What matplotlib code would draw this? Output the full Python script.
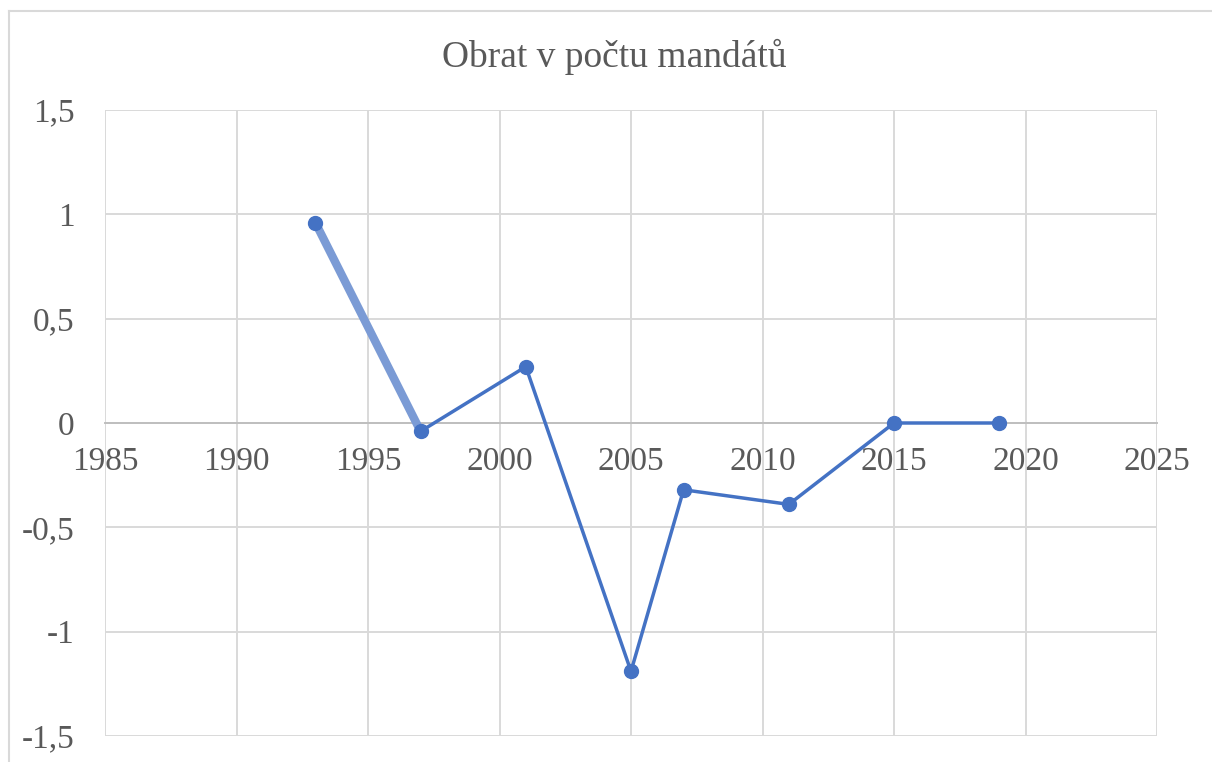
import matplotlib.pyplot as plt
from matplotlib.ticker import FuncFormatter, MultipleLocator
from matplotlib.lines import Line2D

# data
years = [1993, 1997, 2001, 2005, 2007, 2011, 2015, 2019]
values = [0.96, -0.04, 0.27, -1.19, -0.32, -0.39, 0.0, 0.0]
title = "Obrat v počtu mandátů"

plt.rcParams['font.family'] = ['Liberation Serif', 'DejaVu Serif']

fig = plt.figure(figsize=(12.12, 7.62), dpi=100)
ax = fig.add_axes([105/1212, 1 - 736/762, (1157-105)/1212, (736-110)/762])

# chart frame: only the top and left edges are visible in the crop
fig.lines.append(Line2D([9/1212, 1], [1 - 11/762, 1 - 11/762], transform=fig.transFigure,
                        color='#d9d9d9', linewidth=1.5))
fig.lines.append(Line2D([9/1212, 9/1212], [0, 1 - 11/762], transform=fig.transFigure,
                        color='#d9d9d9', linewidth=1.5))

blue = '#4472C4'
# first segment drawn thicker and lighter, like in the original
ax.plot(years[:2], values[:2], color='#7B9BD5', linewidth=6, solid_capstyle='butt', zorder=3)
ax.plot(years[1:], values[1:], color=blue, linewidth=2.5, zorder=3)
ax.plot(years, values, linestyle='none', marker='o', markersize=10, color=blue, zorder=4)

ax.set_xlim(1985, 2025)
ax.set_ylim(-1.5, 1.5)
ax.xaxis.set_major_locator(MultipleLocator(5))
ax.yaxis.set_major_locator(MultipleLocator(0.5))
ax.yaxis.set_major_formatter(FuncFormatter(lambda v, p: ('%g' % v).replace('.', ',')))

ax.grid(True, color='#d9d9d9', linewidth=1.4)
ax.set_axisbelow(True)
for s in ['top', 'right', 'left']:
    ax.spines[s].set_visible(False)
ax.spines['bottom'].set_position(('data', 0))
ax.spines['bottom'].set_color('#bfbfbf')
ax.spines['bottom'].set_linewidth(1.4)

ax.tick_params(axis='both', length=0, labelsize=24, labelcolor='#595959')
ax.tick_params(axis='y', pad=22)
ax.tick_params(axis='x', pad=17)

fig.text(614/1212, 1 - 57/762, title, ha='center', va='center', fontsize=27, color='#595959')

fig.savefig('out.png', dpi=100)
